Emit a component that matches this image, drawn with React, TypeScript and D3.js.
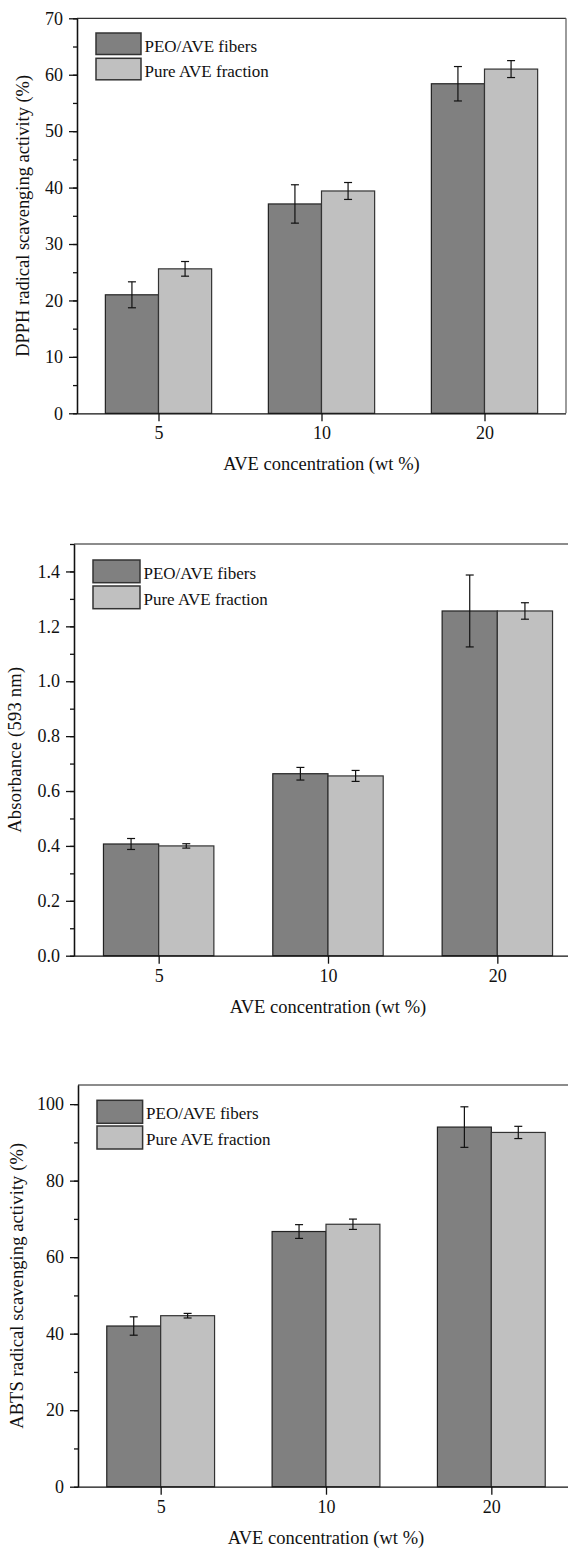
import React, { useRef, useEffect } from "react";
import * as d3 from "d3";

// categories and series
const categories = ["5", "10", "20"];
const seriesNames = ["PEO/AVE fibers", "Pure AVE fraction"];
const seriesColors = ["#808080", "#c0c0c0"];

// DPPH radical scavenging activity (%)
const dpphFibers = [21.0, 37.1, 58.4];
const dpphFibersErr = [2.3, 3.4, 3.05];
const dpphPure = [25.6, 39.4, 61.0];
const dpphPureErr = [1.3, 1.5, 1.5];

// Absorbance (593 nm)
const absFibers = [0.407, 0.663, 1.256];
const absFibersErr = [0.02, 0.023, 0.131];
const absPure = [0.4, 0.655, 1.256];
const absPureErr = [0.008, 0.02, 0.03];

// ABTS radical scavenging activity (%)
const abtsFibers = [42.0, 66.7, 94.0];
const abtsFibersErr = [2.4, 1.8, 5.3];
const abtsPure = [44.7, 68.6, 92.6];
const abtsPureErr = [0.6, 1.35, 1.6];

const xTitle = "AVE concentration (wt %)";

const panels = [
	{
		yTitle: "DPPH radical scavenging activity (%)",
		values: [dpphFibers, dpphPure],
		errors: [dpphFibersErr, dpphPureErr],
		yMax: 70, major: 10, minor: 5, fmt: "d",
		left: 77, right: 566, top: 18.3, bottom: 413.3,
		legend: { x: 96, y: 33, w: 45, h: 21.5, step: 25.3 },
		yTitleX: 29, yTitleLen: 282, frame: "#333",
	},
	{
		yTitle: "Absorbance (593 nm)",
		values: [absFibers, absPure],
		errors: [absFibersErr, absPureErr],
		yMax: 1.5, major: 0.2, minor: 0.1, fmt: ".1f",
		left: 74, right: 582, top: 544, bottom: 955.7,
		legend: { x: 93, y: 560, w: 47, h: 22.7, step: 26 },
		yTitleX: 21, yTitleLen: 166, frame: "#666",
	},
	{
		yTitle: "ABTS radical scavenging activity (%)",
		values: [abtsFibers, abtsPure],
		errors: [abtsFibersErr, abtsPureErr],
		yMax: 105, major: 20, minor: 10, fmt: "d",
		left: 78, right: 574, top: 1085, bottom: 1486.7,
		legend: { x: 97, y: 1100.3, w: 45.6, h: 23, step: 25.7 },
		yTitleX: 23, yTitleLen: 286, frame: "#666",
	},
];

const font = "'Liberation Serif', 'Times New Roman', serif";

const App = () => {
	const svgRef = useRef(null);

	useEffect(() => {
		const svg = d3.select(svgRef.current);
		svg.selectChildren().remove();

		panels.forEach((p) => {
			const g = svg.append("g");
			const x = d3.scalePoint().domain(categories).range([p.left, p.right]).padding(0.5);
			const y = d3.scaleLinear().domain([0, p.yMax]).range([p.bottom, p.top]);
			const barW = x.step() * 0.326;

			// frame top / right
			g.append("line").attr("x1", p.left).attr("x2", p.right).attr("y1", p.top).attr("y2", p.top)
				.attr("stroke", p.frame).attr("stroke-width", 1.3);
			g.append("line").attr("x1", p.right).attr("x2", p.right).attr("y1", p.top).attr("y2", p.bottom)
				.attr("stroke", "#666").attr("stroke-width", 1.3);

			// bars
			p.values.forEach((vals, si) => {
				g.selectAll(null)
					.data(vals)
					.enter()
					.append("rect")
					.attr("x", (d, i) => x(categories[i]) + (si === 0 ? -barW : 0))
					.attr("y", (d) => y(d))
					.attr("width", barW)
					.attr("height", (d) => y(0) - y(d))
					.attr("fill", seriesColors[si])
					.attr("stroke", si === 0 ? "#222" : "#333")
					.attr("stroke-width", 1.2);
			});

			// error bars
			p.values.forEach((vals, si) => {
				vals.forEach((v, i) => {
					const e = p.errors[si][i];
					const cx = x(categories[i]) + (si === 0 ? -barW / 2 : barW / 2);
					const eg = g.append("g").attr("stroke", "#111").attr("stroke-width", 1.2);
					eg.append("line").attr("x1", cx).attr("x2", cx).attr("y1", y(v - e)).attr("y2", y(v + e));
					eg.append("line").attr("x1", cx - 4).attr("x2", cx + 4).attr("y1", y(v - e)).attr("y2", y(v - e));
					eg.append("line").attr("x1", cx - 4).attr("x2", cx + 4).attr("y1", y(v + e)).attr("y2", y(v + e));
				});
			});

			// y axis: minor ticks then major ticks
			const minorTicks = d3.range(0, p.yMax + 1e-9, p.minor);
			const majorTicks = d3.range(0, p.yMax + 1e-9, p.major);
			g.append("g")
				.attr("transform", `translate(${p.left},0)`)
				.call(d3.axisLeft(y).tickValues(minorTicks).tickSize(4).tickSizeOuter(0).tickFormat(() => ""));
			const ya = g.append("g")
				.attr("transform", `translate(${p.left},0)`)
				.call(d3.axisLeft(y).tickValues(majorTicks).tickSize(8).tickPadding(6).tickSizeOuter(0)
					.tickFormat(d3.format(p.fmt)));
			ya.selectAll("text").attr("font-family", font).attr("font-size", 18).attr("fill", "#111");

			// x axis
			const xa = g.append("g")
				.attr("transform", `translate(0,${p.bottom})`)
				.call(d3.axisBottom(x).tickSize(8).tickPadding(0).tickSizeOuter(0));
			xa.select(".domain").attr("d", `M${p.left},0.5H${p.right}`);
			xa.selectAll("text").attr("font-family", font).attr("font-size", 18).attr("fill", "#111")
				.attr("dy", null).attr("y", 26);
			svg.selectAll(".domain, .tick line").attr("stroke", "#111").attr("stroke-width", 1.3);

			// axis titles
			g.append("text")
				.attr("x", x("10"))
				.attr("y", p.bottom + 57)
				.attr("text-anchor", "middle")
				.attr("font-family", font)
				.attr("font-size", 18.5)
				.attr("fill", "#111")
				.text(xTitle);
			g.append("text")
				.attr("transform", `translate(${p.yTitleX},${(p.top + p.bottom) / 2}) rotate(-90)`)
				.attr("text-anchor", "middle")
				.attr("font-family", font)
				.attr("font-size", 18.5)
				.attr("fill", "#111")
				.attr("textLength", p.yTitleLen)
				.attr("lengthAdjust", "spacing")
				.text(p.yTitle);

			// legend
			seriesNames.forEach((name, si) => {
				const ly = p.legend.y + si * p.legend.step;
				g.append("rect")
					.attr("x", p.legend.x)
					.attr("y", ly)
					.attr("width", p.legend.w)
					.attr("height", p.legend.h)
					.attr("fill", seriesColors[si])
					.attr("stroke", "#333")
					.attr("stroke-width", 1.5);
				g.append("text")
					.attr("x", p.legend.x + p.legend.w + 3.5)
					.attr("y", ly + 18.5)
					.attr("font-family", font)
					.attr("font-size", 17)
					.attr("fill", "#111")
					.text(name);
			});
		});
	}, []);

	return (
		<svg
			ref={svgRef}
			width={568}
			height={1548}
			style={{ position: "absolute", left: 0, top: 0, background: "#fff" }}
		></svg>
	);
};

export default App;
